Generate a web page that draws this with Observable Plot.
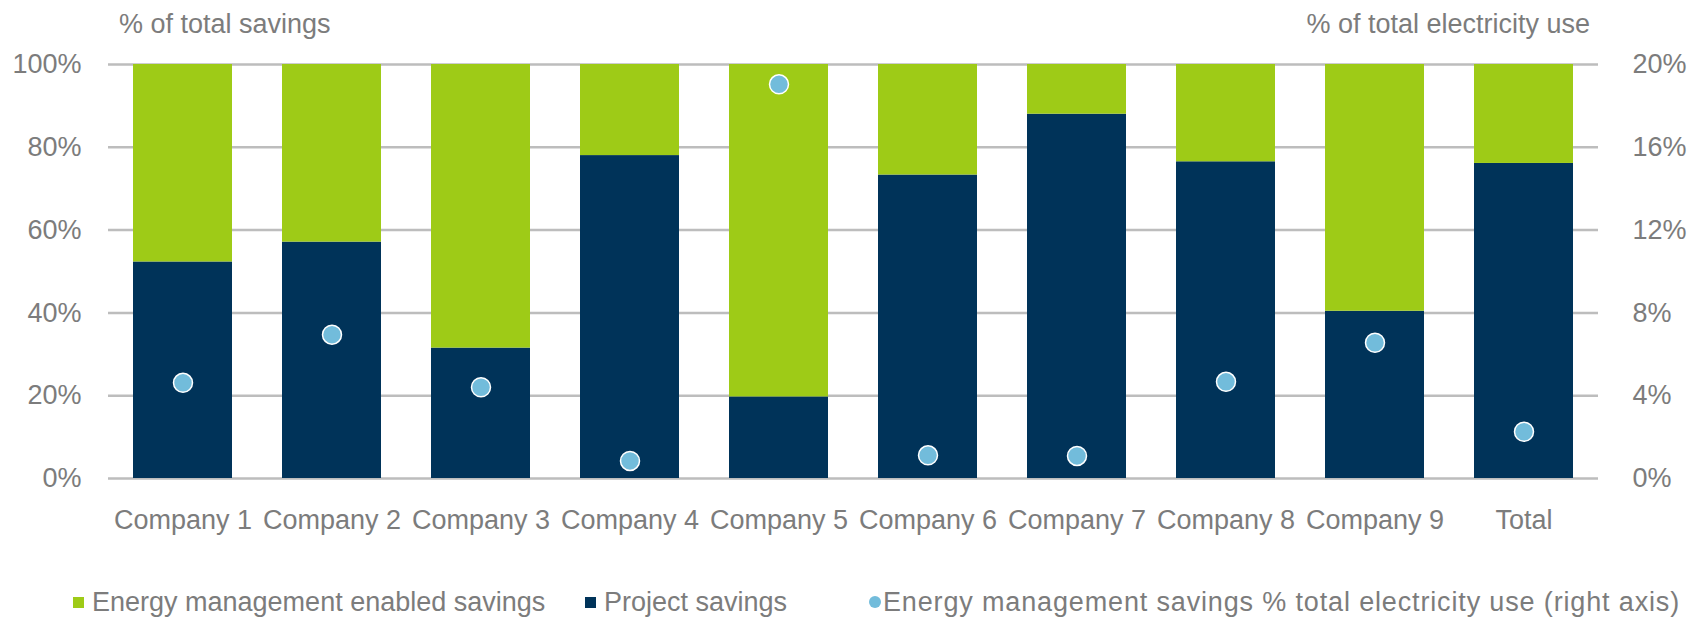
<!DOCTYPE html>
<html>
<head>
<meta charset="utf-8">
<script src="https://cdn.jsdelivr.net/npm/d3@7"></script>
<script src="https://cdn.jsdelivr.net/npm/@observablehq/plot@0.6"></script>
<style>
  html, body { margin: 0; padding: 0; background: #fff; }
  #wrap { position: relative; width: 1700px; height: 627px; font-family: "Liberation Sans", Arial, sans-serif; color: #7c7c7c; font-size: 27px; overflow: hidden; }
  #chart { position: absolute; left: 0; top: 0; }
  .ttl { position: absolute; top: 7px; line-height: 34px; white-space: nowrap; }
  .leg { position: absolute; top: 585px; line-height: 34px; white-space: nowrap; display: flex; align-items: center; }
  .sw { display: inline-block; width: 11px; height: 11px; margin-right: 8px; }
  .ci { display: inline-block; width: 12px; height: 12px; border-radius: 50%; margin-right: 2px; }
</style>
</head>
<body>
<div id="wrap">
  <div id="chart"></div>
  <div class="ttl" id="tl"></div>
  <div class="ttl" id="tr"></div>
  <div id="legend"></div>
</div>
<script>
const companies = ["Company 1","Company 2","Company 3","Company 4","Company 5","Company 6","Company 7","Company 8","Company 9","Total"];
const projectSavings = [52.3, 57.1, 31.5, 78.0, 19.7, 73.3, 88.0, 76.5, 40.4, 76.1];
const emEnabledSavings = [47.7, 42.9, 68.5, 22.0, 80.3, 26.7, 12.0, 23.5, 59.6, 23.9];
const emShareElectricity = [4.62, 6.95, 4.41, 0.85, 19.04, 1.12, 1.09, 4.67, 6.56, 2.26];
const leftTicks = [0, 20, 40, 60, 80, 100];
const rightTicks = [0, 4, 8, 12, 16, 20];
const seriesNames = ["Energy management enabled savings", "Project savings", "Energy management savings % total electricity use (right axis)"];
const colors = ["#9ecb17", "#003359", "#72bcdb"];
const leftTitle = "% of total savings";
const rightTitle = "% of total electricity use";

const stacked = [];
companies.forEach((c, i) => {
  stacked.push({company: c, series: seriesNames[1], value: projectSavings[i]});
  stacked.push({company: c, series: seriesNames[0], value: emEnabledSavings[i]});
});
const dots = companies.map((c, i) => ({company: c, value: emShareElectricity[i]}));
const ratio = leftTicks[leftTicks.length - 1] / rightTicks[rightTicks.length - 1];

const chart = Plot.plot({
  width: 1700,
  height: 560,
  marginLeft: 108,
  marginRight: 102,
  marginTop: 64,
  marginBottom: 82,
  style: {fontFamily: '"Liberation Sans", Arial, sans-serif', fontSize: "27px", color: "#7c7c7c", background: "transparent"},
  x: {domain: companies, paddingInner: 0.336, paddingOuter: 0.168, label: null},
  y: {domain: [0, 100], label: null},
  color: {domain: seriesNames.slice(0, 2), range: colors.slice(0, 2)},
  marks: [
    Plot.ruleY(leftTicks, {stroke: "#bdbdbd", strokeWidth: 2.5}),
    Plot.barY(stacked, {x: "company", y: "value", fill: "series", order: [seriesNames[1], seriesNames[0]]}),
    Plot.dot(dots, {x: "company", y: d => d.value * ratio, r: 9.5, fill: colors[2], stroke: "#ffffff", strokeWidth: 1.5}),
    Plot.axisY({anchor: "left", ticks: leftTicks, tickFormat: d => d + "%", tickSize: 0, tickPadding: 27, label: null}),
    Plot.axisY({anchor: "right", ticks: leftTicks, tickFormat: d => (d / ratio) + "%", tickSize: 0, tickPadding: 34, label: null}),
    Plot.axisX({anchor: "bottom", tickSize: 0, tickPadding: 31, label: null})
  ]
});
document.getElementById("chart").appendChild(chart);

const tl = document.getElementById("tl");
tl.textContent = leftTitle; tl.style.left = "119px";
const tr = document.getElementById("tr");
tr.textContent = rightTitle; tr.style.right = "110px";

const legendPos = [73, 585, 869];
const legend = document.getElementById("legend");
seriesNames.forEach((name, i) => {
  const item = document.createElement("div");
  item.className = "leg";
  item.style.left = legendPos[i] + "px";
  const sw = document.createElement("span");
  sw.className = i === 2 ? "ci" : "sw";
  sw.style.background = colors[i];
  item.appendChild(sw);
  const t = document.createElement("span");
  t.textContent = name;
  if (i === 2) t.style.letterSpacing = "0.85px";
  item.appendChild(t);
  legend.appendChild(item);
});
</script>
</body>
</html>
